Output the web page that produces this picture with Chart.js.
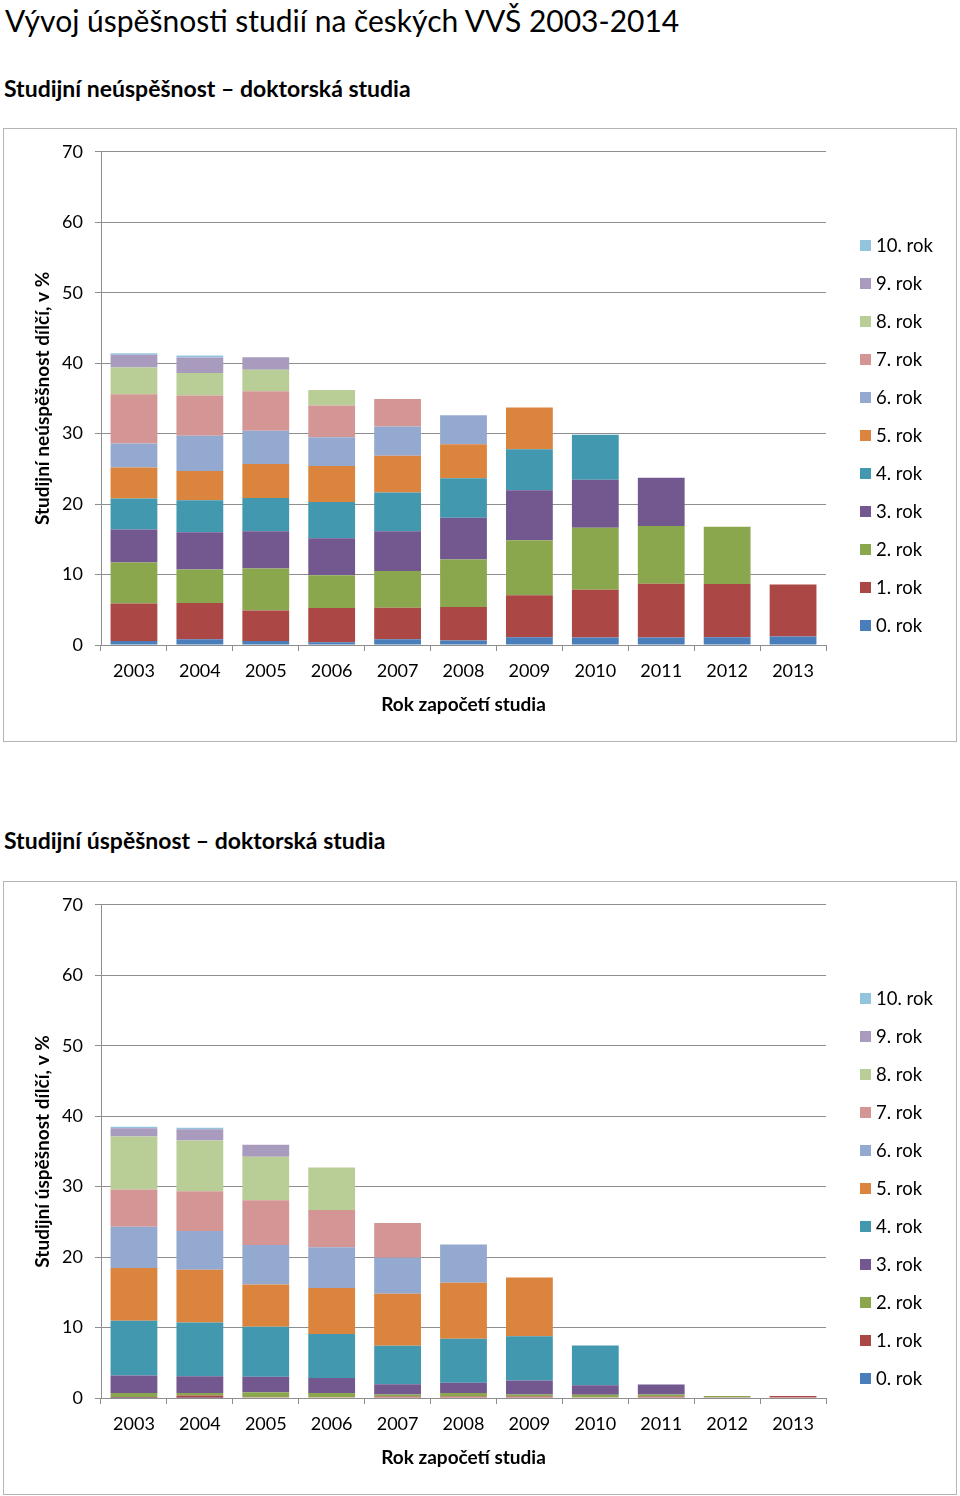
<!DOCTYPE html>
<html lang="cs">
<head>
<meta charset="utf-8">
<title>Vývoj úspěšnosti studií na českých VVŠ 2003-2014</title>
<script src="https://cdn.jsdelivr.net/npm/chart.js@4.4.1/dist/chart.umd.min.js"></script>
<style>
  html, body { margin: 0; padding: 0; background: #fff; }
  body { width: 960px; height: 1496px; position: relative; overflow: hidden;
         font-family: Lato, "Open Sans", sans-serif; color: #000; }
  h1 { position: absolute; left: 5px; top: 0; margin: 0; font-weight: 400; font-size: 30px; line-height: 40px; white-space: nowrap; }
  h2 { position: absolute; left: 4px; margin: 0; font-weight: 700; font-size: 23px; line-height: 28px; white-space: nowrap; }
  .box { position: absolute; left: 3px; width: 952px; height: 612px; border: 1px solid #b4b4b4; }
  .box canvas { position: absolute; left: 0; top: 0; }
  .legend { position: absolute; left: 856px; top: 97px; margin: 0; padding: 0; list-style: none; }
  .legend li { height: 38px; display: flex; align-items: center; font-size: 18.5px; white-space: nowrap; }
  .legend-dot { width: 11px; height: 11px; margin-right: 5px; }
</style>
</head>
<body>

<h1>Vývoj úspěšnosti studií na českých VVŠ 2003-2014</h1>

<h2 style="top:74px">Studijní neúspěšnost – doktorská studia</h2>
<div class="box" style="top:128px">
  <canvas id="neuspesnost-chart" width="952" height="612"></canvas>
  <ul class="legend" id="neuspesnost-legend"></ul>
</div>

<h2 style="top:826px">Studijní úspěšnost – doktorská studia</h2>
<div class="box" style="top:881px">
  <canvas id="uspesnost-chart" width="952" height="612"></canvas>
  <ul class="legend" id="uspesnost-legend"></ul>
</div>

<script>
// =========================
// DATA
// =========================
const years = ['2003', '2004', '2005', '2006', '2007', '2008', '2009', '2010', '2011', '2012', '2013'];
const rokLabels = ['0. rok', '1. rok', '2. rok', '3. rok', '4. rok', '5. rok', '6. rok', '7. rok', '8. rok', '9. rok', '10. rok'];
const yTicks = [0, 10, 20, 30, 40, 50, 60, 70];

// neúspěšnost (v %), po ročnících studia
const neusp0  = [0.55, 0.8, 0.55, 0.4, 0.8, 0.65, 1.1, 1.05, 1.05, 1.1, 1.2];
const neusp1  = [5.35, 5.15, 4.35, 4.85, 4.5, 4.75, 5.95, 6.8, 7.65, 7.55, 7.4];
const neusp2  = [5.8, 4.75, 5.95, 4.65, 5.2, 6.75, 7.8, 8.8, 8.2, 8.15, null];
const neusp3  = [4.7, 5.3, 5.3, 5.25, 5.65, 5.9, 7.1, 6.8, 6.85, null, null];
const neusp4  = [4.4, 4.55, 4.7, 5.15, 5.5, 5.6, 5.85, 6.4, null, null, null];
const neusp5  = [4.4, 4.15, 4.85, 5.1, 5.2, 4.85, 5.9, null, null, null, null];
const neusp6  = [3.4, 5.0, 4.7, 4.1, 4.15, 4.1, null, null, null, null, null];
const neusp7  = [7.0, 5.7, 5.6, 4.5, 3.9, null, null, null, null, null, null];
const neusp8  = [3.8, 3.2, 3.05, 2.2, null, null, null, null, null, null, null];
const neusp9  = [1.8, 2.2, 1.8, null, null, null, null, null, null, null, null];
const neusp10 = [0.2, 0.3, null, null, null, null, null, null, null, null, null];

// úspěšnost (v %), po ročnících studia
const usp0  = [0.05, 0.05, null, null, null, null, null, null, null, null, null];
const usp1  = [0.1, 0.3, 0.1, 0.1, 0.2, 0.2, 0.2, 0.1, 0.2, 0.1, 0.3];
const usp2  = [0.55, 0.35, 0.7, 0.6, 0.3, 0.5, 0.3, 0.35, 0.3, 0.2, null];
const usp3  = [2.5, 2.4, 2.2, 2.15, 1.45, 1.45, 2.0, 1.35, 1.4, null, null];
const usp4  = [7.75, 7.6, 7.1, 6.25, 5.45, 6.25, 6.25, 5.65, null, null, null];
const usp5  = [7.5, 7.5, 6.0, 6.5, 7.4, 7.95, 8.35, null, null, null, null];
const usp6  = [5.85, 5.5, 5.6, 5.8, 5.1, 5.45, null, null, null, null, null];
const usp7  = [5.3, 5.65, 6.35, 5.3, 4.95, null, null, null, null, null, null];
const usp8  = [7.5, 7.2, 6.2, 6.0, null, null, null, null, null, null, null];
const usp9  = [1.2, 1.6, 1.7, null, null, null, null, null, null, null, null];
const usp10 = [0.2, 0.2, null, null, null, null, null, null, null, null, null];

// barvy ročníků (Excel styl)
const rokColors = ['#4a7ebb', '#ab4744', '#8aa74e', '#72588f', '#4298af', '#db843d',
                   '#93a9d0', '#d39695', '#b9ce96', '#a99bbd', '#92c5dd'];

const gridColor = '#8e8e8e';
const tickFont = { family: 'Lato', size: 18 };
const titleFont = { family: 'Lato', size: 19, weight: 'bold' };

function buildChart(canvasId, legendId, series, yTitle) {
    const el = document.getElementById(canvasId);
    if (!el) return;

    new Chart(el, {
        type: 'bar',
        data: {
            labels: years,
            datasets: series.map((values, i) => ({
                label: rokLabels[i],
                data: values,
                backgroundColor: rokColors[i],
                borderWidth: 0,
                categoryPercentage: 1,
                barPercentage: 0.71,
            }))
        },
        options: {
            responsive: false,
            animation: false,
            layout: { padding: { top: 22, right: 130, bottom: 0, left: 0 } },
            plugins: { legend: { display: false }, tooltip: { enabled: false } },
            scales: {
                x: {
                    stacked: true,
                    grid: { drawOnChartArea: false, drawTicks: true, tickLength: 6, color: gridColor, offset: true },
                    border: { display: true, color: gridColor },
                    ticks: { color: '#000', font: tickFont, padding: 9, maxRotation: 0 },
                    title: {
                        display: true, text: 'Rok započetí studia', color: '#000',
                        font: titleFont, padding: { top: 0, bottom: 25 }
                    },
                    afterFit: s => { s.height = 96; }
                },
                y: {
                    stacked: true,
                    min: yTicks[0],
                    max: yTicks[yTicks.length - 1],
                    afterBuildTicks: s => { s.ticks = yTicks.map(v => ({ value: v })); },
                    grid: { color: gridColor, tickLength: 6 },
                    border: { color: gridColor },
                    ticks: { color: '#000', font: tickFont, padding: 12 },
                    title: {
                        display: true, text: yTitle, color: '#000',
                        font: titleFont, padding: { top: 27, bottom: 0 }
                    },
                    afterFit: s => { s.width = 97; }
                }
            }
        }
    });

    // legenda ručně (10. rok nahoře)
    const legend = document.getElementById(legendId);
    if (legend) {
        legend.innerHTML = "";
        for (let i = rokLabels.length - 1; i >= 0; i--) {
            legend.innerHTML += `
            <li><span class="legend-dot" style="background:${rokColors[i]}"></span><span>${rokLabels[i]}</span></li>`;
        }
    }
}

buildChart('neuspesnost-chart', 'neuspesnost-legend',
    [neusp0, neusp1, neusp2, neusp3, neusp4, neusp5, neusp6, neusp7, neusp8, neusp9, neusp10],
    'Studijní neúspěšnost dílčí, v %');

buildChart('uspesnost-chart', 'uspesnost-legend',
    [usp0, usp1, usp2, usp3, usp4, usp5, usp6, usp7, usp8, usp9, usp10],
    'Studijní úspěšnost dílčí, v %');
</script>
</body>
</html>
